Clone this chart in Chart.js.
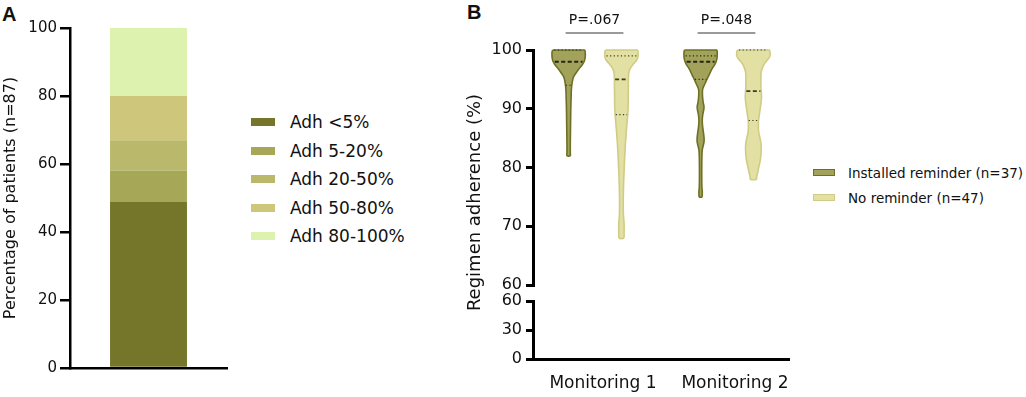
<!DOCTYPE html>
<html>
<head>
<meta charset="utf-8">
<script src="https://cdn.jsdelivr.net/npm/chart.js@4.4.1/dist/chart.umd.min.js"></script>
<style>
  html, body { margin: 0; padding: 0; background: #fff; }
  body { width: 1026px; height: 397px; position: relative; overflow: hidden;
         font-family: 'DejaVu Sans', Verdana, sans-serif; color: #111; }
  .letter { position: absolute; font: bold 20px 'Liberation Sans', Arial, sans-serif; line-height: 1; }
  canvas { position: absolute; top: 0; }
  .legend { position: absolute; }
  .legend .row { display: flex; align-items: center; white-space: nowrap; }
  .legend .box { flex: none; box-sizing: border-box; }
  #legendA { left: 251px; top: 108px; font-size: 17px; }
  #legendA .row { height: 28.5px; }
  #legendA .box { width: 24px; height: 8px; margin-right: 15px; }
  #legendB { left: 813px; top: 160px; font-size: 13.5px; }
  #legendB .row { height: 25px; }
  #legendB .box { width: 22px; height: 7px; margin-right: 13px; border: 1.5px solid; }
</style>
</head>
<body>
<div class="letter" style="left:2px; top:4px;">A</div>
<div class="letter" style="left:467px; top:2px;">B</div>
<canvas id="chartA" width="240" height="397" style="left:0;"></canvas>
<canvas id="chartB" width="360" height="397" style="left:440px;"></canvas>
<div class="legend" id="legendA"></div>
<div class="legend" id="legendB"></div>

<script>
// ---- panel A: adherence categories (stacked %)
const adhCategories = ['Adh <5%', 'Adh 5-20%', 'Adh 20-50%', 'Adh 50-80%', 'Adh 80-100%'];
const adhPercent = [49, 9, 9, 13, 20];
const adhColors = ['#76762a', '#a6a757', '#b9b86b', '#cec77b', '#dcf2ae'];
const adhTicks = [0, 20, 40, 60, 80, 100];

// ---- panel B: violin plots
const groups = ['Monitoring 1', 'Monitoring 2'];
const arms = ['Installed reminder (n=37)', 'No reminder (n=47)'];
const armFill = ['#a3a25b', '#e2e0a3'];
const armStroke = ['#6c7125', '#d0cc86'];
const pValues = ['P=.067', 'P=.048'];
const upperTicks = [60, 70, 80, 90, 100];
const lowerTicks = [0, 30, 60];

// outline of each violin: adherence level (%) and relative half-width of the density
const m1ReminderLevels = [100, 99.6, 99, 98.5, 98, 97.5, 97, 96.5, 96, 95.5, 95, 94, 93, 92, 90, 88, 86, 84, 82.5, 82];
const m1ReminderDensity = [0.96, 1, 1, 0.98, 0.93, 0.82, 0.68, 0.55, 0.42, 0.31, 0.25, 0.19, 0.16, 0.15, 0.13, 0.12, 0.11, 0.1, 0.1, 0.1];
const m1ReminderQuartiles = [94, 98, 100];

const m1NoneLevels = [100, 99.6, 99, 98.5, 98, 97.5, 97, 96.5, 96, 95, 94, 92, 90, 89, 88, 86, 84, 82, 80, 78, 76, 74, 72, 70.5, 69, 68];
const m1NoneDensity = [0.96, 1, 1, 0.96, 0.84, 0.69, 0.56, 0.48, 0.44, 0.42, 0.42, 0.41, 0.4, 0.38, 0.35, 0.29, 0.24, 0.2, 0.17, 0.14, 0.12, 0.11, 0.12, 0.16, 0.16, 0.14];
const m1NoneQuartiles = [89, 95, 99];

const m2ReminderLevels = [100, 99.6, 99, 98.5, 98, 97.5, 97, 96.5, 96, 95.5, 95, 94.5, 94, 93.5, 93, 92, 91, 90.5, 90, 89, 88, 87, 86, 85, 84.5, 84, 83, 82, 80, 78, 76.5, 76, 75.5, 75];
const m2ReminderDensity = [0.97, 1, 1, 0.98, 0.93, 0.85, 0.73, 0.63, 0.55, 0.47, 0.38, 0.3, 0.22, 0.14, 0.11, 0.12, 0.16, 0.2, 0.2, 0.13, 0.1, 0.12, 0.17, 0.21, 0.21, 0.18, 0.1, 0.08, 0.07, 0.07, 0.08, 0.1, 0.1, 0.08];
const m2ReminderQuartiles = [95, 98, 99];

const m2NoneLevels = [100, 99.6, 99, 98.5, 98, 97.5, 97, 96.5, 96, 95, 94, 93, 92, 91, 90, 89, 88, 87, 86, 85, 84, 83, 82, 81, 80, 79, 78.5, 78];
const m2NoneDensity = [0.96, 1, 1, 0.9, 0.75, 0.63, 0.55, 0.49, 0.46, 0.45, 0.45, 0.47, 0.49, 0.46, 0.41, 0.36, 0.31, 0.3, 0.32, 0.4, 0.46, 0.47, 0.45, 0.4, 0.32, 0.25, 0.2, 0.18];
const m2NoneQuartiles = [88, 93, 100];

Chart.defaults.font.family = "'DejaVu Sans', Verdana, sans-serif";
Chart.defaults.color = '#111';

// ---------------- panel A
new Chart(document.getElementById('chartA'), {
  type: 'bar',
  data: {
    labels: [''],
    datasets: adhCategories.map((c, i) => ({
      label: c,
      data: [adhPercent[i]],
      backgroundColor: adhColors[i],
      borderWidth: 0,
      barPercentage: 0.49,
      categoryPercentage: 1
    }))
  },
  options: {
    responsive: false,
    animation: false,
    layout: { padding: { top: 28, right: 13, bottom: 29, left: 0 } },
    plugins: { legend: { display: false }, tooltip: { enabled: false } },
    scales: {
      x: {
        stacked: true,
        ticks: { display: false },
        grid: { display: false, drawTicks: false },
        border: { color: '#000', width: 2.5 },
        afterFit: s => { s.height = 0; }
      },
      y: {
        stacked: true,
        min: 0, max: 100,
        afterBuildTicks: s => { s.ticks = adhTicks.map(v => ({ value: v })); },
        ticks: { font: { size: 15 }, color: '#111', padding: 3, autoSkip: false },
        grid: { drawOnChartArea: false, tickLength: 10, color: '#000', lineWidth: 2.5 },
        border: { color: '#000', width: 2.5 },
        title: { display: true, text: 'Percentage of patients (n=87)', font: { size: 16 }, color: '#111', padding: { top: 1, bottom: 0 } },
        afterFit: s => { s.width = 70; }
      }
    }
  }
});

// ---------------- panel B
const GROUP_POS = [1, 2];
const ARM_OFFSET = [-0.2, 0.2];
const MAX_HALF = 0.126;

const violins = [
  { g: 0, arm: 0, levels: m1ReminderLevels, dens: m1ReminderDensity, q: m1ReminderQuartiles },
  { g: 0, arm: 1, levels: m1NoneLevels, dens: m1NoneDensity, q: m1NoneQuartiles },
  { g: 1, arm: 0, levels: m2ReminderLevels, dens: m2ReminderDensity, q: m2ReminderQuartiles },
  { g: 1, arm: 1, levels: m2NoneLevels, dens: m2NoneDensity, q: m2NoneQuartiles }
];

function outline(center, levels, dens) {
  const left = levels.map((y, i) => ({ x: center - dens[i] * MAX_HALF, y }));
  const right = levels.map((y, i) => ({ x: center + dens[i] * MAX_HALF, y })).reverse();
  return [...left, ...right, left[0]];
}

function quartileLine(center, levels, dens, q) {
  const h = dens[levels.indexOf(q)] * MAX_HALF * 0.9;
  return [{ x: center - h, y: q }, { x: center + h, y: q }];
}

const datasetsB = [];
violins.forEach(v => {
  const c = GROUP_POS[v.g] + ARM_OFFSET[v.arm];
  datasetsB.push({
    label: arms[v.arm],
    data: outline(c, v.levels, v.dens),
    showLine: true,
    fill: 'shape',
    backgroundColor: armFill[v.arm],
    borderColor: armStroke[v.arm],
    borderWidth: 1.6,
    tension: 0.3,
    pointRadius: 0,
    yAxisID: 'yTop',
    clip: 6,
    order: 2
  });
  v.q.forEach((q, k) => {
    const median = k === 1;
    datasetsB.push({
      data: quartileLine(c, v.levels, v.dens, q),
      showLine: true,
      borderColor: v.arm === 0 ? '#262610' : '#3c3c22',
      borderWidth: median ? 1.8 : 1.1,
      borderDash: median ? [4, 2.5] : [1.2, 2.4],
      pointRadius: 0,
      yAxisID: 'yTop',
      clip: 6,
      order: 1
    });
  });
});

const annotateB = {
  id: 'annotateB',
  afterDraw(chart) {
    const { ctx, chartArea } = chart;
    const x = chart.scales.x;
    ctx.save();
    pValues.forEach((txt, i) => {
      const x1 = x.getPixelForValue(GROUP_POS[i] + ARM_OFFSET[0]) - 3;
      const x2 = x.getPixelForValue(GROUP_POS[i] + ARM_OFFSET[1]) + 2;
      ctx.strokeStyle = '#9a9a9a';
      ctx.lineWidth = 2;
      ctx.beginPath();
      ctx.moveTo(x1, 33);
      ctx.lineTo(x2, 33);
      ctx.stroke();
      ctx.fillStyle = '#111';
      ctx.font = "14px 'DejaVu Sans'";
      ctx.textAlign = 'center';
      ctx.textBaseline = 'middle';
      ctx.fillText(txt, (x1 + x2) / 2, 20.5);
    });
    ctx.translate(35, (chartArea.top + chartArea.bottom) / 2 - 2);
    ctx.rotate(-Math.PI / 2);
    ctx.font = "18px 'DejaVu Sans'";
    ctx.fillText('Regimen adherence (%)', 0, 0);
    ctx.restore();
  }
};

const yCommon = {
  position: 'left',
  stack: 'adherence',
  ticks: { font: { size: 16 }, color: '#111', padding: 4, autoSkip: false },
  grid: { drawOnChartArea: false, tickLength: 7, color: '#000', lineWidth: 3 },
  border: { color: '#000', width: 3 },
  afterFit: s => { s.width = 93; }
};

new Chart(document.getElementById('chartB'), {
  type: 'scatter',
  data: { datasets: datasetsB },
  options: {
    responsive: false,
    animation: false,
    layout: { padding: { top: 50, right: 11, bottom: 0, left: 0 } },
    plugins: { legend: { display: false }, tooltip: { enabled: false } },
    scales: {
      x: {
        type: 'linear', min: 0.53, max: 2.47,
        afterBuildTicks: s => { s.ticks = GROUP_POS.map(v => ({ value: v })); },
        ticks: {
          callback: v => groups[GROUP_POS.indexOf(v)],
          font: { size: 17 }, color: '#111', padding: 14, labelOffset: 8,
          maxRotation: 0, autoSkip: false
        },
        grid: { display: false, drawTicks: false },
        border: { color: '#000', width: 3 },
        afterFit: s => { s.height = 38; }
      },
      yTop: Object.assign({}, yCommon, {
        weight: 3, stackWeight: 235, min: 60, max: 100,
        afterBuildTicks: s => { s.ticks = upperTicks.map(v => ({ value: v })); }
      }),
      yGap: {
        position: 'left', stack: 'adherence', weight: 2, stackWeight: 16,
        ticks: { display: false },
        grid: { display: false, drawTicks: false },
        border: { display: false },
        afterFit: s => { s.width = 93; }
      },
      yBot: Object.assign({}, yCommon, {
        weight: 1, stackWeight: 58, min: 0, max: 60,
        afterBuildTicks: s => { s.ticks = lowerTicks.map(v => ({ value: v })); }
      })
    }
  },
  plugins: [annotateB]
});

// ---------------- legends
const legA = document.getElementById('legendA');
adhCategories.forEach((c, i) => {
  const row = document.createElement('div');
  row.className = 'row';
  row.innerHTML = '<span class="box" style="background:' + adhColors[i] + '"></span><span></span>';
  row.lastChild.textContent = c;
  legA.appendChild(row);
});
const legB = document.getElementById('legendB');
arms.forEach((a, i) => {
  const row = document.createElement('div');
  row.className = 'row';
  row.innerHTML = '<span class="box" style="background:' + armFill[i] + ';border-color:' + armStroke[i] + '"></span><span></span>';
  row.lastChild.textContent = a;
  legB.appendChild(row);
});
</script>
</body>
</html>
